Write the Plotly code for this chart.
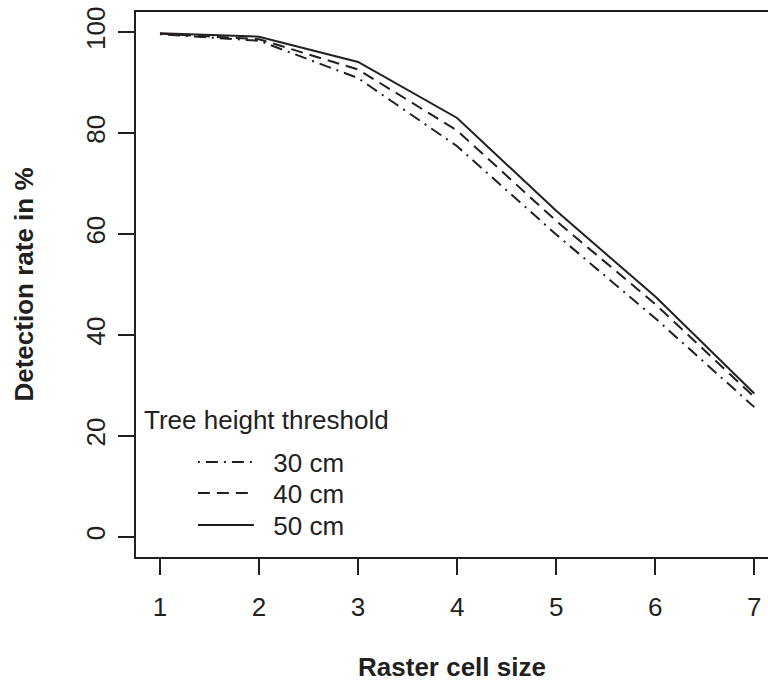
import plotly.graph_objects as go

# Data
cell_size = [1, 2, 3, 4, 5, 6, 7]
rate_30cm = [99.6, 98.3, 90.9, 77.4, 59.9, 43.3, 25.7]
rate_40cm = [99.7, 98.6, 92.6, 80.5, 62.6, 46.1, 27.7]
rate_50cm = [99.8, 99.1, 94.1, 83.0, 64.6, 47.6, 28.4]
series_names = ["30 cm", "40 cm", "50 cm"]
x_ticks = [1, 2, 3, 4, 5, 6, 7]
y_ticks = [0, 20, 40, 60, 80, 100]

INK = "#231f20"
FONT = "Liberation Sans, Arial, Helvetica, sans-serif"
FS = 26

dashes = ["2px,6px,12px,6px", "12px,7px", "solid"]
series = [rate_30cm, rate_40cm, rate_50cm]
legend_ids = ["legend", "legend2", "legend3"]
legend_y = [0.1743, 0.1174, 0.0587]

fig = go.Figure()
for name, vals, dash, lg in zip(series_names, series, dashes, legend_ids):
    fig.add_trace(go.Scatter(
        x=cell_size, y=vals, mode="lines", name="\u00a0\u00a0" + name,
        line=dict(color=INK, width=2, dash=dash), legend=lg,
    ))

legend_style = dict(
    x=0.09, xanchor="left", yanchor="middle",
    bgcolor="rgba(0,0,0,0)", borderwidth=0,
    font=dict(size=FS, color=INK), itemwidth=56,
)

fig.update_layout(
    width=768, height=682,
    margin=dict(l=136, r=0, t=12, b=125),
    paper_bgcolor="white", plot_bgcolor="white",
    font=dict(family=FONT, color=INK, size=FS),
    showlegend=True,
    legend=dict(y=legend_y[0], **legend_style),
    legend2=dict(y=legend_y[1], **legend_style),
    legend3=dict(y=legend_y[2], **legend_style),
    annotations=[dict(
        text="Tree height threshold", xref="paper", yref="paper",
        x=0.01, y=0.2514, xanchor="left", yanchor="middle",
        showarrow=False, font=dict(size=FS, color=INK),
    )],
)

fig.update_xaxes(
    range=[0.758, 7.138], tickvals=x_ticks, ticktext=[str(v) for v in x_ticks],
    showline=True, mirror=True, linecolor=INK, linewidth=2,
    ticks="outside", ticklen=16, tickwidth=2, tickcolor=INK,
    showgrid=False, zeroline=False, ticklabelstandoff=10,
    tickfont=dict(size=FS, color=INK),
    title=dict(text="<b>Raster cell size</b>", font=dict(size=FS, color=INK), standoff=38),
)
fig.update_yaxes(
    range=[-4, 104], tickvals=y_ticks, ticktext=[str(v) for v in y_ticks],
    showline=True, mirror=False, linecolor=INK, linewidth=2,
    ticks="outside", ticklen=16, tickwidth=2, tickcolor=INK,
    showgrid=False, zeroline=False, tickangle=-90, ticklabelstandoff=3,
    tickfont=dict(size=FS, color=INK),
    title=dict(text="<b>Detection rate in %</b>", font=dict(size=FS, color=INK), standoff=39),
)

fig.write_html("out.html")
